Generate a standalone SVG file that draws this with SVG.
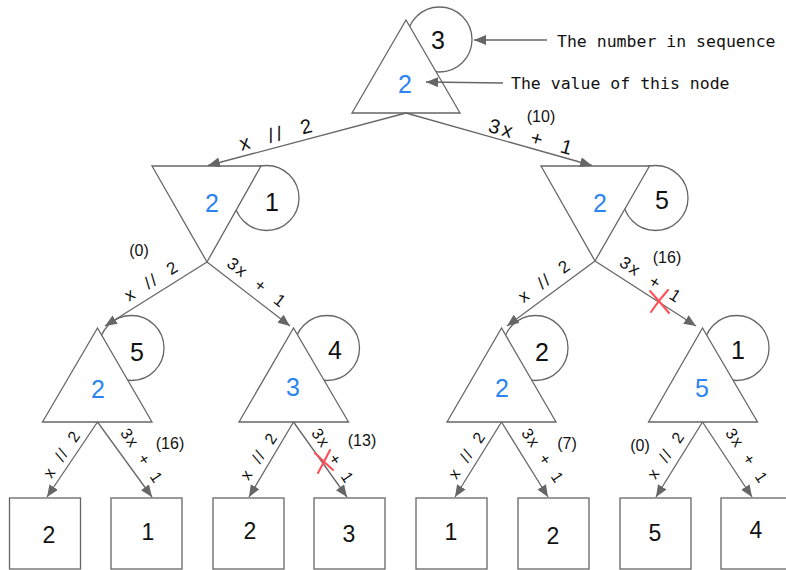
<svg xmlns="http://www.w3.org/2000/svg" width="786" height="570" viewBox="0 0 786 570">
<style>
.e{stroke:#666;stroke-width:1.3;fill:none;marker-end:url(#ah)}
.n{stroke:#666;stroke-width:1.3;fill:#fff}
.t{font-family:"Liberation Sans","DejaVu Sans",sans-serif;fill:#111;text-anchor:middle;dominant-baseline:central}
.v{fill:#2a85f0;font-size:25px}
.s{font-size:25px}
.b{font-size:23px}
.l1{font-size:20px;letter-spacing:3px;word-spacing:8px}
.l2{font-size:17px;letter-spacing:2px;word-spacing:6px}
.l3{font-size:16px;letter-spacing:1.5px;word-spacing:5px}
.p{font-size:16px}
.m{font-family:"DejaVu Sans Mono","Liberation Mono",monospace;font-size:16.5px;fill:#111}
.x{stroke:#ff4d55;stroke-width:2;fill:none;stroke-linecap:round}
</style>
<defs>
<marker id="ah" markerUnits="userSpaceOnUse" markerWidth="13" markerHeight="11" refX="12" refY="5" orient="auto">
<path d="M0,0 L12,5 L0,10 z" fill="#666"/>
</marker>
</defs>
<g id="n-root">
<circle class="n" cx="439.5" cy="39.5" r="32.5"/>
<polygon class="n" points="406,20 352,113 460,113"/>
<text class="t s" x="438" y="40">3</text>
<text class="t v" x="405" y="84">2</text>
</g>
<g id="n-l">
<circle class="n" cx="266.5" cy="198" r="32.5"/>
<polygon class="n" points="152,166 261,166 207,262"/>
<text class="t v" x="212" y="203">2</text>
<text class="t s" x="272" y="202">1</text>
</g>
<g id="n-r">
<circle class="n" cx="655.5" cy="198" r="32.5"/>
<polygon class="n" points="541,166 649.5,166 595,261"/>
<text class="t v" x="600" y="203">2</text>
<text class="t s" x="662" y="200">5</text>
</g>
<g id="n-ll">
<circle class="n" cx="131.5" cy="348" r="32.5"/>
<polygon class="n" points="97.5,328 42.5,422 152,422"/>
<text class="t s" x="137" y="352">5</text>
<text class="t v" x="98" y="389">2</text>
</g>
<g id="n-lr">
<circle class="n" cx="327" cy="348" r="32.5"/>
<polygon class="n" points="293.5,328 239,422 348.5,422"/>
<text class="t s" x="335" y="350">4</text>
<text class="t v" x="293" y="387">3</text>
</g>
<g id="n-rl">
<circle class="n" cx="535.5" cy="348" r="32.5"/>
<polygon class="n" points="501.5,328 447,422 556,422"/>
<text class="t s" x="542" y="352">2</text>
<text class="t v" x="502" y="388">2</text>
</g>
<g id="n-rr">
<circle class="n" cx="736.5" cy="348" r="32.5"/>
<polygon class="n" points="702.5,328 648.5,422 757.5,422"/>
<text class="t s" x="738" y="350">1</text>
<text class="t v" x="702" y="388">5</text>
</g>
<g id="leaf-1"><rect class="n" x="9.5" y="498" width="71" height="71"/><text class="t b" x="49" y="535">2</text></g>
<g id="leaf-2"><rect class="n" x="111" y="498" width="71" height="71"/><text class="t b" x="148" y="532">1</text></g>
<g id="leaf-3"><rect class="n" x="213" y="498" width="71" height="71"/><text class="t b" x="250" y="531">2</text></g>
<g id="leaf-4"><rect class="n" x="314" y="498" width="71" height="71"/><text class="t b" x="349" y="534">3</text></g>
<g id="leaf-5"><rect class="n" x="416" y="498" width="71" height="71"/><text class="t b" x="451" y="532">1</text></g>
<g id="leaf-6"><rect class="n" x="518" y="498" width="71" height="71"/><text class="t b" x="553" y="536">2</text></g>
<g id="leaf-7"><rect class="n" x="620" y="498" width="71" height="71"/><text class="t b" x="655" y="533">5</text></g>
<g id="leaf-8"><rect class="n" x="721" y="498" width="71" height="71"/><text class="t b" x="756" y="530">4</text></g>
<g id="connectors">
<line class="e" x1="406" y1="113" x2="208" y2="165.5"/>
<line class="e" x1="406" y1="113" x2="592" y2="165.5"/>
<line class="e" x1="207" y1="262" x2="105" y2="326"/>
<line class="e" x1="207" y1="262" x2="290" y2="326"/>
<line class="e" x1="595" y1="261" x2="507" y2="326"/>
<line class="e" x1="595" y1="261" x2="696" y2="326"/>
<line class="e" x1="97.5" y1="422" x2="47" y2="497"/>
<line class="e" x1="97.5" y1="422" x2="152" y2="497"/>
<line class="e" x1="293.5" y1="422" x2="249" y2="497"/>
<line class="e" x1="293.5" y1="422" x2="347" y2="497"/>
<line class="e" x1="501.5" y1="422" x2="455" y2="497"/>
<line class="e" x1="501.5" y1="422" x2="548" y2="497"/>
<line class="e" x1="702.5" y1="422" x2="656" y2="497"/>
<line class="e" x1="702.5" y1="422" x2="752" y2="497"/>
<line class="e" x1="547" y1="40" x2="474" y2="40"/>
<line class="e" x1="503" y1="83" x2="426" y2="82"/>
</g>
<g id="edge-labels">
<text class="t l1" transform="translate(277,134) rotate(-15)">x // 2</text>
<text class="t l1" transform="translate(532,137) rotate(16)">3x + 1</text>
<text class="t p" x="541" y="116">(10)</text>
<text class="t p" x="139" y="250">(0)</text>
<text class="t l2" transform="translate(152,281) rotate(-32)">x // 2</text>
<text class="t l2" transform="translate(257,283) rotate(38)">3x + 1</text>
<text class="t l2" transform="translate(545,281) rotate(-36)">x // 2</text>
<text class="t l2" transform="translate(651,280) rotate(33)">3x + 1</text>
<text class="t p" x="667" y="257">(16)</text>
<text class="t l3" transform="translate(62,454) rotate(-56)">x // 2</text>
<text class="t l3" transform="translate(142,456) rotate(56)">3x + 1</text>
<text class="t p" x="170" y="443">(16)</text>
<text class="t l3" transform="translate(259,456) rotate(-56)">x // 2</text>
<text class="t l3" transform="translate(333,456) rotate(56)">3x + 1</text>
<text class="t p" x="362" y="440">(13)</text>
<text class="t l3" transform="translate(467,455) rotate(-56)">x // 2</text>
<text class="t l3" transform="translate(543,456) rotate(56)">3x + 1</text>
<text class="t p" x="567" y="443">(7)</text>
<text class="t l3" transform="translate(666,455) rotate(-56)">x // 2</text>
<text class="t p" x="640" y="445">(0)</text>
<text class="t l3" transform="translate(747,456) rotate(56)">3x + 1</text>
<path class="x" d="M650,291 Q660,302 669,313 M668,290 Q659,300 651,312"/>
<path class="x" d="M315,453 Q324,462 333,470 M330,450 Q324,462 318,473"/>
</g>
<text class="m" x="557" y="47">The number in sequence</text>
<text class="m" x="511" y="89">The value of this node</text>
</svg>
